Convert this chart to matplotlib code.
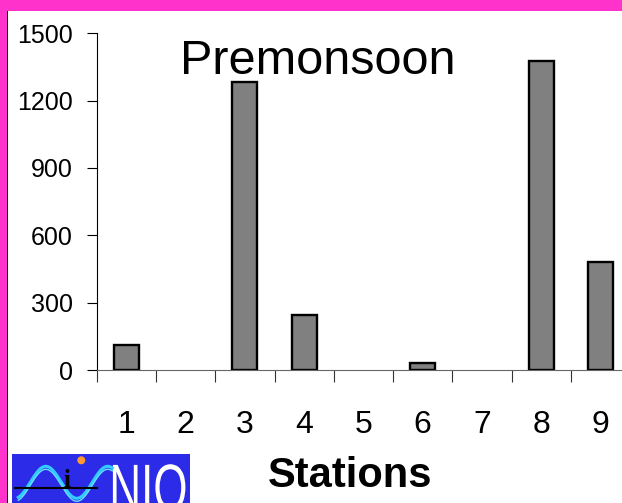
import matplotlib
matplotlib.use('Agg')
import matplotlib.pyplot as plt
import numpy as np
from matplotlib.patches import Rectangle, PathPatch, Circle
from matplotlib.textpath import TextPath
from matplotlib.font_manager import FontProperties
from matplotlib.transforms import Affine2D

# Data
stations = ['1', '2', '3', '4', '5', '6', '7', '8', '9']
values = [110, 0, 1285, 245, 0, 30, 0, 1375, 480]
y_ticks = [0, 300, 600, 900, 1200, 1500]

plt.rcParams['font.family'] = ['Liberation Sans', 'DejaVu Sans']

W, H = 622, 503
fig = plt.figure(figsize=(W / 100, H / 100), dpi=100)
fig.patch.set_facecolor('white')


def fx(px):
    return px / W


def fy(py):
    return 1 - py / H


# Magenta slide frame (top band and left band) with a thin dark rule
fig.patches.append(Rectangle((0, fy(11)), 1, 11 / H, transform=fig.transFigure,
                             facecolor='#ff33cc', edgecolor='none', zorder=0))
fig.patches.append(Rectangle((0, 0), fx(7), 1, transform=fig.transFigure,
                             facecolor='#ff33cc', edgecolor='none', zorder=0))
fig.patches.append(Rectangle((fx(7), 0), fx(1.2), fy(11), transform=fig.transFigure,
                             facecolor='black', edgecolor='none', zorder=1))

# Main bar chart
ax = fig.add_axes([fx(96.7), fy(370), 533.5 / W, 336.7 / H])
x = np.arange(len(stations))
edge = ['black' if v > 0 else 'none' for v in values]
ax.bar(x, values, width=0.42, color='#808080', edgecolor=edge, linewidth=1.7, zorder=3)

ax.set_xlim(-0.5, len(stations) - 0.5)
ax.set_ylim(0, 1500)
ax.set_yticks(y_ticks)
ax.set_yticklabels([str(v) for v in y_ticks], fontsize=18)
ax.tick_params(axis='y', direction='out', length=7.2, width=0.8, pad=10, colors='black')

ax.set_xticks(x)
ax.set_xticklabels(stations, fontsize=23)
ax.set_xticks(np.arange(-0.5, len(stations)), minor=True)
ax.tick_params(axis='x', which='major', length=0, pad=29)
ax.tick_params(axis='x', which='minor', direction='out', length=8.6, width=0.8, color='#333333')

for s in ['top', 'right']:
    ax.spines[s].set_visible(False)
ax.spines['left'].set_linewidth(0.8)
ax.spines['bottom'].set_linewidth(0.8)
ax.spines['bottom'].set_color('#666666')
ax.spines['bottom'].set_zorder(4)

# Title and axis label
fig.text(fx(318), fy(74.3), 'Premonsoon', fontsize=35, ha='center', va='baseline')
fig.text(fx(350), fy(487), 'Stations', fontsize=30, fontweight='bold',
         ha='center', va='baseline')

# NIO logo in the bottom-left corner
lg = fig.add_axes([fx(12.3), 0, (190 - 12.3) / W, (503 - 454.3) / H])
lg.set_xlim(0, 177.7)
lg.set_ylim(48.7, 0)
lg.set_facecolor('#2b2be8')
lg.set_xticks([])
lg.set_yticks([])
for s in lg.spines.values():
    s.set_visible(False)

wx = np.linspace(6, 100, 200)
wave = 28 - 16 * np.sin(2 * np.pi * (wx - 18) / 62)
lg.plot(wx, wave, color='#33ccff', lw=2.2)
lg.plot(wx, wave + 3, color='#66e0ff', lw=1.0)
lg.plot([3, 85], [34, 34], color='black', lw=1.5)
lg.text(55, 33, 'i', fontsize=18, fontweight='bold', color='black',
        ha='center', va='baseline', family='Liberation Serif')
lg.add_patch(Circle((69, 6), 4, facecolor='#ff9933', edgecolor='none'))

tp = TextPath((0, 0), 'NIO', size=1, prop=FontProperties(family='Liberation Sans'))
tr = Affine2D().scale(44, -66).translate(97, 56)
lg.add_patch(PathPatch(tr.transform_path(tp), facecolor='white', edgecolor='none'))

fig.savefig('out.png', dpi=100, facecolor=fig.get_facecolor())
